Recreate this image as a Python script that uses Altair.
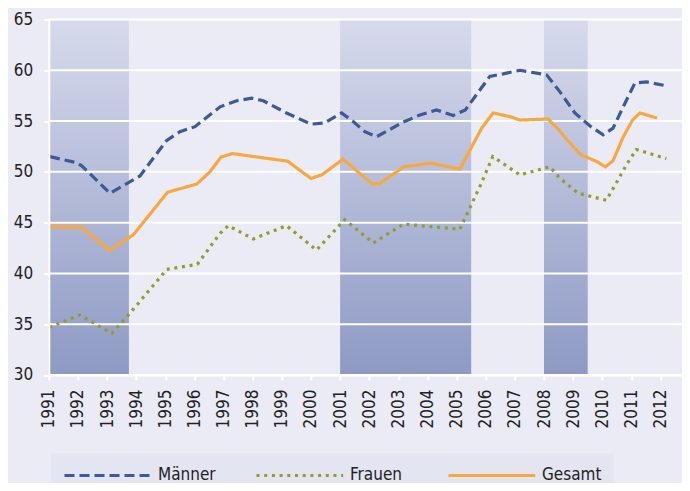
import altair as alt
import pandas as pd

series_names = ["Männer", "Frauen", "Gesamt"]
series_colors = ["#3b5b98", "#959c2b", "#f7a840"]
series_dashes = [[10, 5], [3, 4.7], [1, 0]]

men_x = [1991.04, 1991.96, 1992.13, 1993.1, 1994.13, 1995.05, 1995.5, 1996.02, 1996.88, 1997.45,
         1997.97, 1998.36, 1999.16, 2000.0, 2000.45, 2001.05, 2001.45, 2001.85, 2002.25, 2003.17,
         2003.74, 2004.31, 2004.88, 2005.3, 2006.14, 2006.6, 2007.17, 2008.09, 2008.54, 2009.06,
         2009.63, 2010.03, 2010.37, 2010.72, 2011.12, 2011.52, 2012.15]
men_y = [51.5, 50.9, 50.6, 47.9, 49.6, 53.1, 53.95, 54.45, 56.4, 57.0,
         57.25, 57.0, 55.8, 54.7, 54.8, 55.8, 54.95, 53.95, 53.45, 54.9,
         55.6, 56.1, 55.55, 56.1, 59.4, 59.65, 60.0, 59.55, 57.9, 55.8,
         54.4, 53.65, 54.3, 56.4, 58.75, 58.85, 58.5]

women_x = [1991.02, 1992.07, 1993.16, 1993.79, 1995.05, 1996.1, 1996.88, 1997.16, 1998.02, 1999.16,
           2000.19, 2001.16, 2002.14, 2003.17, 2005.11, 2005.82, 2006.24, 2006.45, 2007.17, 2008.2,
           2008.54, 2009.17, 2010.14, 2010.48, 2010.83, 2011.17, 2012.2]
women_y = [34.7, 35.9, 34.1, 36.1, 40.4, 40.9, 43.95, 44.7, 43.4, 44.7,
           42.3, 45.3, 43.0, 44.85, 44.35, 48.7, 51.5, 51.1, 49.7, 50.5,
           49.4, 47.9, 47.2, 48.9, 50.7, 52.2, 51.3]

total_x = [1991.04, 1992.13, 1993.08, 1993.9, 1995.08, 1996.08, 1996.53, 1996.91, 1997.3, 1999.2,
           2000.0, 2000.37, 2001.1, 2002.08, 2002.37, 2003.19, 2004.14, 2005.11, 2005.86, 2006.25,
           2006.88, 2007.17, 2008.14, 2008.54, 2008.71, 2009.26, 2009.82, 2010.11, 2010.37, 2010.72,
           2011.04, 2011.29, 2011.88]
total_y = [44.6, 44.55, 42.25, 43.8, 48.0, 48.8, 50.0, 51.45, 51.8, 51.05,
           49.35, 49.7, 51.25, 48.85, 48.85, 50.5, 50.85, 50.27, 54.3, 55.8,
           55.4, 55.1, 55.2, 54.05, 53.4, 51.7, 51.0, 50.5, 51.1, 53.45,
           55.1, 55.8, 55.3]

shade_start = [1991, 2001, 2008]
shade_end = [1993.75, 2005.5, 2009.5]

y_ticks = [30, 35, 40, 45, 50, 55, 60, 65]
x_ticks = list(range(1991, 2013))
x_domain = [1991, 2012.73]

frames = []
for name, xs, ys in [("Männer", men_x, men_y), ("Frauen", women_x, women_y), ("Gesamt", total_x, total_y)]:
    frames.append(pd.DataFrame({"jahr": xs, "wert": ys, "serie": name}))
lines_df = pd.concat(frames, ignore_index=True)

shade_df = pd.DataFrame({"start": shade_start, "end": shade_end,
                         "lo": y_ticks[0], "hi": y_ticks[-1]})
grid_df = pd.DataFrame({"v": y_ticks})

FONT = "Liberation Sans Narrow, DejaVu Sans Condensed, sans-serif"
FS = 17
x_scale = alt.Scale(domain=x_domain, nice=False, zero=False)
y_scale = alt.Scale(domain=[y_ticks[0], y_ticks[-1]], nice=False, zero=False)

grad = alt.Gradient(
    gradient="linear",
    stops=[alt.GradientStop(color="#d7daec", offset=0),
           alt.GradientStop(color="#8e9ac4", offset=1)],
    x1=0, x2=0, y1=0, y2=1,
)

x_axis = alt.Axis(values=x_ticks, format="d", labelAngle=270, labelAlign="right",
                  labelBaseline="middle", labelPadding=9, labelOverlap=False,
                  tickColor="white", tickSize=5, tickWidth=2, domainColor="white",
                  domainWidth=2, grid=False, title=None,
                  labelFontSize=FS, labelColor="#222222", labelFont=FONT)
y_axis = alt.Axis(values=y_ticks, grid=False, domainColor="white", domainWidth=2,
                  tickColor="white", tickSize=5, tickWidth=2, labelPadding=11,
                  labelOverlap=False, labelFontSize=FS, labelColor="#222222",
                  labelFont=FONT, title=None, zindex=1)

rects = alt.Chart(shade_df).mark_rect(color=grad).encode(
    x=alt.X("start:Q", scale=x_scale, axis=x_axis),
    x2="end:Q",
    y=alt.Y("hi:Q", scale=y_scale, axis=y_axis),
    y2="lo:Q",
)

grid = alt.Chart(grid_df).mark_rule(color="white", strokeWidth=2).encode(
    y=alt.Y("v:Q", scale=y_scale, axis=y_axis)
)

legend = alt.Legend(
    orient="none", legendX=2.2, legendY=434, direction="horizontal", title=None,
    fillColor="#e3e5f1", padding=12, symbolType="M-1,0H9.2", symbolSize=289,
    symbolStrokeWidth=3, labelFontSize=FS, labelColor="#222222", labelFont=FONT,
    labelOffset=75, columnPadding=32, gridAlign="all",
)

lines = alt.Chart(lines_df).mark_line(strokeWidth=3.2).encode(
    x=alt.X("jahr:Q", scale=x_scale, axis=x_axis),
    y=alt.Y("wert:Q", scale=y_scale, axis=y_axis),
    color=alt.Color("serie:N", scale=alt.Scale(domain=series_names, range=series_colors),
                    legend=legend),
    strokeDash=alt.StrokeDash("serie:N", scale=alt.Scale(domain=series_names, range=series_dashes),
                              legend=legend),
)

chart = alt.layer(rects, grid, lines).properties(
    width=633, height=355.5,
    padding={"left": 40.8, "top": 11.5, "right": 0, "bottom": 108},
    autosize=alt.AutoSizeParams(type="none"),
    background="#eaebf5",
).configure_view(stroke=None).configure_axisX(labelOverlap=False, labelFontSize=FS)

chart.save("out.html", embed_options={"renderer": "svg", "actions": False})
